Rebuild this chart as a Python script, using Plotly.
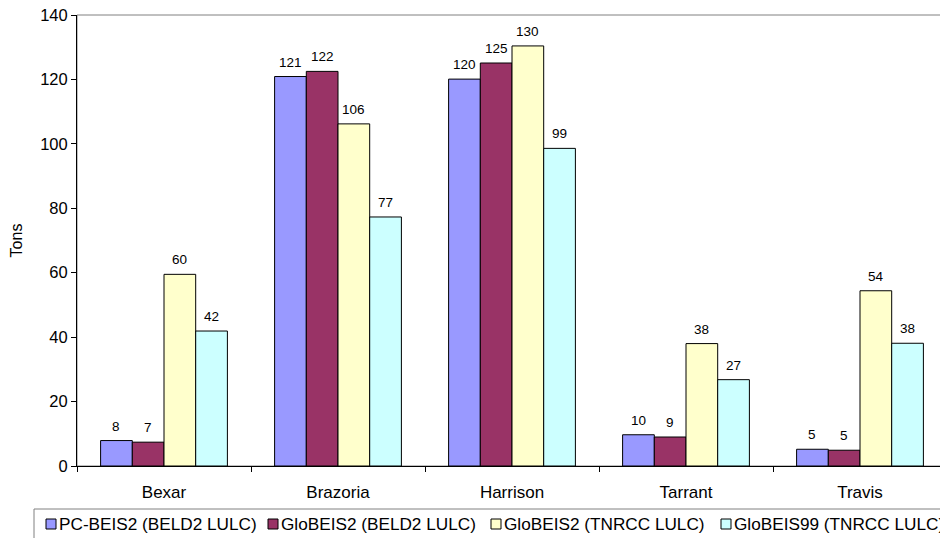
import plotly.graph_objects as go

# Counties and emission totals (tons) for each model run
counties = ["Bexar", "Brazoria", "Harrison", "Tarrant", "Travis"]
series_names = [
    "PC-BEIS2 (BELD2 LULC)",
    "GloBEIS2 (BELD2 LULC)",
    "GloBEIS2 (TNRCC LULC)",
    "GloBEIS99 (TNRCC LULC)",
]
pc_beis2_beld2 = [7.9, 120.9, 120.1, 9.7, 5.2]
globeis2_beld2 = [7.4, 122.5, 125.1, 9.0, 4.9]
globeis2_tnrcc = [59.5, 106.2, 130.4, 38.0, 54.4]
globeis99_tnrcc = [41.9, 77.3, 98.6, 26.8, 38.1]
y_ticks = [0, 20, 40, 60, 80, 100, 120, 140]

series_values = [pc_beis2_beld2, globeis2_beld2, globeis2_tnrcc, globeis99_tnrcc]
colors = ["#9999FF", "#993366", "#FFFFCC", "#CCFFFF"]

FONT = "Liberation Sans, Arial, sans-serif"
W, H = 940, 538
PL, PR, PT, PB = 77, 940, 15, 466  # plot-area edges in pixels
CAT_W = 174.0                       # pixel width of one category slot
BAR_W = 31.7                        # pixel width of one bar


def xp(px):
    return (px - PL) / (PR - PL)


def yp(py):
    return (PB - py) / (PB - PT)


fig = go.Figure()
for name, vals, col in zip(series_names, series_values, colors):
    fig.add_trace(go.Bar(
        x=counties, y=vals, name=name,
        marker=dict(color=col, line=dict(color="#000000", width=1)),
        showlegend=False,
    ))

annotations = []
# value labels above each bar
for i, vals in enumerate(series_values):
    for c, v in zip(counties, vals):
        annotations.append(dict(
            x=c, y=v, xref="x", yref="y", text=f"{v:.0f}",
            showarrow=False, xshift=(i - 1.5) * BAR_W, yshift=14.5,
            yanchor="middle", font=dict(family=FONT, size=13.5, color="#000"),
        ))

shapes = [
    # plot-area frame (grey); the black axis lines sit on top of it
    dict(type="rect", xref="paper", yref="paper", x0=0, x1=1.05, y0=0, y1=1,
         line=dict(color="#808080", width=1), fillcolor="rgba(0,0,0,0)", layer="below"),
    # legend frame
    dict(type="rect", xref="paper", yref="paper", x0=xp(34), x1=xp(980),
         y0=yp(509), y1=yp(570), line=dict(color="#808080", width=1),
         fillcolor="rgba(0,0,0,0)"),
]

# legend entries
sym_left = [46, 268, 491, 721]
for name, col, sx in zip(series_names, colors, sym_left):
    shapes.append(dict(type="rect", xref="paper", yref="paper",
                       x0=xp(sx), x1=xp(sx + 10), y0=yp(519), y1=yp(529),
                       fillcolor=col, line=dict(color="#000000", width=1)))
    annotations.append(dict(x=xp(sx + 11), y=yp(524), xref="paper", yref="paper",
                            text=name, showarrow=False, xanchor="left", yanchor="middle",
                            font=dict(family=FONT, size=17.2, color="#000")))

fig.update_layout(
    width=W, height=H,
    margin=dict(l=PL, r=W - PR, t=PT, b=H - PB, autoexpand=False),
    paper_bgcolor="white", plot_bgcolor="white",
    barmode="group", bargap=1 - 4 * BAR_W / CAT_W, bargroupgap=0,
    font=dict(family=FONT, color="#000"),
    showlegend=False,
    annotations=annotations, shapes=shapes,
)
fig.update_xaxes(
    type="category", range=[-0.5, -0.5 + (PR - PL) / CAT_W],
    showline=True, linecolor="#000", linewidth=1,
    ticks="outside", ticklen=5, tickcolor="#000", tickson="boundaries",
    showgrid=False, tickfont=dict(family=FONT, size=17), ticklabelstandoff=11,
)
fig.update_yaxes(
    range=[0, 140], tickvals=y_ticks,
    showline=True, linecolor="#000", linewidth=1,
    ticks="outside", ticklen=5, tickcolor="#000",
    showgrid=False, zeroline=False, tickfont=dict(family=FONT, size=16.5),
    title=dict(text="Tons", font=dict(family=FONT, size=16), standoff=13),
)

fig.write_html("out.html")
